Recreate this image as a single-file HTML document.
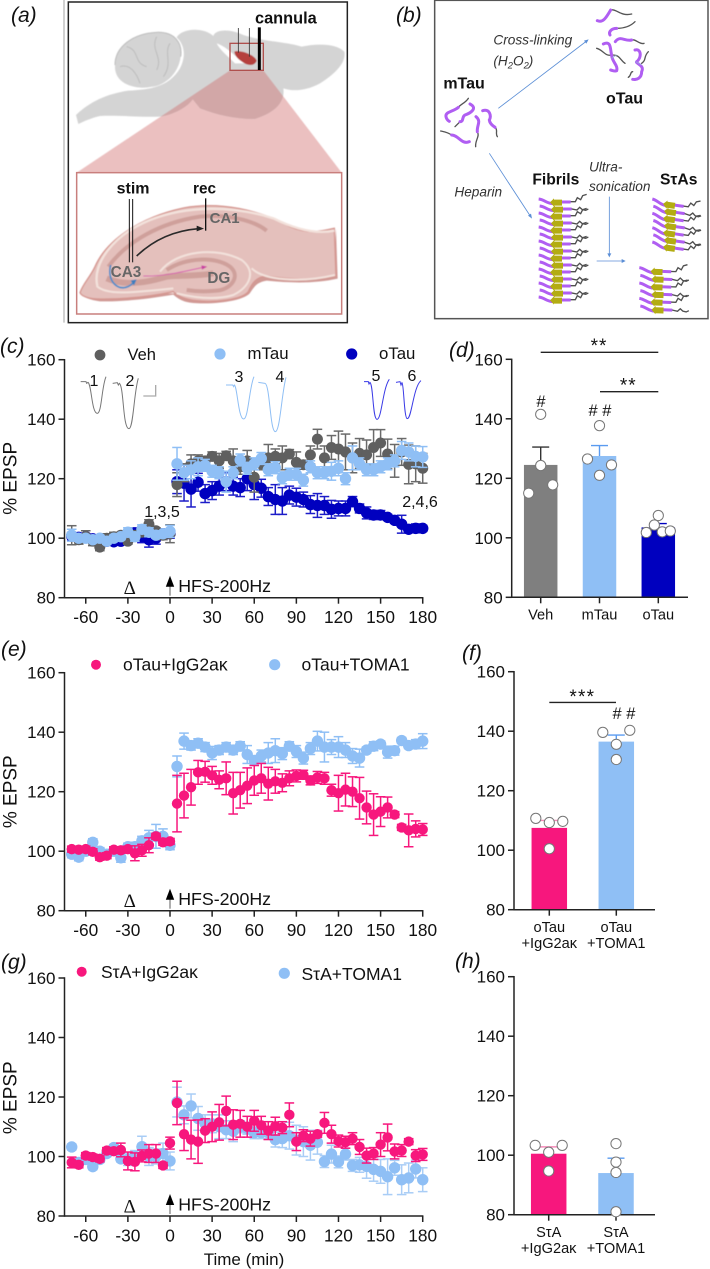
<!DOCTYPE html>
<html lang="en">
<head>
<meta charset="utf-8">
<title>EPSP figure</title>
<style>
html,body{margin:0;padding:0;background:#fff;width:710px;height:1269px;overflow:hidden}
svg{display:block;font-family:"Liberation Sans",sans-serif}
text{fill:#111}
</style>
</head>
<body>
<svg id="fig" xmlns="http://www.w3.org/2000/svg" width="710" height="1269" viewBox="0 0 710 1269">
<defs>
  <filter id="soft" x="-5%" y="-5%" width="110%" height="110%"><feGaussianBlur stdDeviation="1.5"/></filter>
</defs>

<g transform="scale(0.33333)">
  <line x1="192" y1="0" x2="192" y2="968" stroke="#c8c8c8" stroke-width="5"/>
  <rect x="205" y="6" width="837" height="962" fill="#fff" stroke="#222" stroke-width="4.5"/>
  <g filter="url(#soft)">
    <path d="M228,345 C270,305 320,282 385,272 C450,268 505,262 540,205 C558,170 555,135 530,112 C545,85 610,80 640,108 C645,88 690,85 730,105 C790,125 860,125 905,140 C950,130 1010,130 1033,155 C1040,190 1000,225 960,250 C920,272 880,275 850,265 C855,300 835,335 765,357 C710,358 650,345 600,325 L578,298 C565,320 520,345 480,350 C420,352 350,345 300,348 C270,355 250,365 235,372 Z" fill="#d4d4d4"/>
    <path d="M345,195 C345,140 400,100 470,97 C525,95 548,130 542,170 C535,225 490,262 440,263 C390,265 342,245 345,195Z" fill="#d4d4d4"/>
    <path d="M380,140 C420,150 400,190 440,200 M470,110 C450,150 490,170 470,210 M510,130 C490,160 520,190 490,230 M360,200 C390,190 410,220 420,250 M345,195 C345,140 400,100 470,97 C525,95 548,130 542,170" fill="none" stroke="#bcbcbc" stroke-width="3"/>
    <path d="M650,130 C680,140 700,165 735,190 L705,190 C680,165 660,150 650,130Z" fill="#fff"/>
    <path d="M345,250 C390,268 440,268 470,255 C440,272 380,270 345,250Z" fill="#fff"/>
    <path d="M703,155 C720,148 765,165 770,182 C765,198 745,198 730,188 C715,178 705,170 703,155Z" fill="#b5403c"/>
    <polygon points="690,211 790,211 1025,518 230,518" fill="#cf6a6a" fill-opacity="0.42"/>
  </g>
  <rect x="690" y="130" width="100" height="81" fill="none" stroke="#b0504e" stroke-width="4"/>
  <line x1="715" y1="84" x2="715" y2="158" stroke="#333" stroke-width="2.5"/>
  <line x1="748" y1="84" x2="748" y2="170" stroke="#333" stroke-width="2.5"/>
  <line x1="778" y1="82" x2="778" y2="210" stroke="#000" stroke-width="9"/>
  <text x="765" y="71" font-size="49" font-weight="bold">cannula</text>
  <rect x="230" y="518" width="795" height="424" fill="#fff" stroke="#c97f7d" stroke-width="4.5"/>
  <g>
    <g filter="url(#soft)">
      <path d="M240,880 C250,892 270,900 300,904 C370,906 450,896 520,884 C540,902 560,910 600,910 C660,912 740,900 752,876 C765,856 775,846 800,842 C880,850 950,850 1013,836 L1008,685 L1000,826 C900,846 840,836 800,826 C770,826 750,860 740,880Z" fill="#d09a95"/>
      <path d="M240,878 C250,850 270,832 285,800 C320,720 420,652 550,624 C660,604 780,630 870,680 C920,702 960,695 1003,685 L1008,828 C950,842 880,840 800,828 C770,830 755,850 745,875 C725,900 640,908 590,902 C550,898 530,885 520,875 C450,890 370,898 300,897 C270,897 245,890 240,878Z" fill="#e4c0bc" stroke="#d59690" stroke-width="4"/>
      <path d="M292,858 C276,790 340,705 450,660 C560,616 700,616 820,655 C870,680 940,705 1003,692" fill="none" stroke="#f3e2dc" stroke-width="7"/>
      <path d="M325,800 C380,725 480,668 600,650 C680,642 760,660 800,692" fill="none" stroke="#cfa09b" stroke-width="12"/>
      <path d="M320,835 C390,865 470,838 500,830 C530,825 590,830 640,820" fill="none" stroke="#cfa09b" stroke-width="18"/>
      <path d="M480,815 C530,750 650,740 725,780 C770,815 750,860 700,885 C650,900 590,895 530,880" fill="none" stroke="#f3e2dc" stroke-width="6"/>
      <path d="M500,810 C560,770 650,770 690,800 C725,830 690,870 650,872 C620,875 590,875 560,870" fill="none" stroke="#cfa09b" stroke-width="12"/>
      <path d="M755,805 C790,840 900,850 1005,825 M290,858 C320,885 380,880 520,865" fill="none" stroke="#f3e2dc" stroke-width="6"/>
      <path d="M430,828 C490,830 550,815 605,803" fill="none" stroke="#d85fb0" stroke-width="3"/>
      <polygon points="604,796 622,800 606,809" fill="#c93ea0"/>
      <path d="M332,795 C318,850 365,885 400,848" fill="none" stroke="#4a8cc9" stroke-width="5"/>
      <polygon points="392,842 410,838 402,856" fill="#3d7fbe"/>
    </g>
    <path d="M410,768 C460,720 520,692 595,686" fill="none" stroke="#2a2a2a" stroke-width="5"/>
    <polygon points="590,677 612,686 590,694" fill="#222"/>
    <line x1="388" y1="597" x2="388" y2="787" stroke="#111" stroke-width="3"/>
    <line x1="398" y1="597" x2="398" y2="787" stroke="#111" stroke-width="3"/>
    <line x1="617" y1="595" x2="617" y2="692" stroke="#111" stroke-width="4"/>
    <text x="350" y="580" font-size="48" font-weight="bold">stim</text>
    <text x="579" y="580" font-size="46" font-weight="bold">rec</text>
    <text x="629" y="669" font-size="45" font-weight="bold" style="fill:#666">CA1</text>
    <text x="332" y="831" font-size="46" font-weight="bold" style="fill:#666">CA3</text>
    <text x="622" y="849" font-size="46" font-weight="bold" style="fill:#666">DG</text>
  </g>
</g>

<g transform="translate(390,0) scale(0.33333)">
  <rect x="134" y="1" width="820" height="955" fill="#fff" stroke="#555" stroke-width="4.5"/>
  <g fill="none" stroke-linecap="round">
    <path d="M205,322 C215,310 225,310 235,295 M210,365 L195,380 M315,382 C325,390 315,400 322,410 M262,395 C270,410 255,420 257,440 M185,405 C170,395 160,395 152,393" stroke="#555" stroke-width="4"/>
    <path d="M205,322 C190,335 165,335 168,350 C170,360 175,362 178,364 M240,312 C265,325 240,340 225,345 C215,350 222,365 210,365 M278,332 C300,325 305,350 298,360 C300,375 312,378 315,382 M258,350 C275,365 260,375 262,395 M185,405 C205,405 215,435 238,425" stroke="#b05ef2" stroke-width="9"/>
  </g>
  <g fill="none" stroke-linecap="round">
    <path d="M662,30 C680,25 690,50 725,42 M680,85 C700,85 720,80 735,65 M725,120 C735,115 750,135 762,130 M665,165 C645,170 640,150 620,145 M668,165 C690,165 690,180 705,190 M755,190 C770,180 760,170 775,155 M728,215 C720,215 725,225 715,232" stroke="#555" stroke-width="4"/>
    <path d="M622,62 C640,70 650,50 662,30 M660,105 C655,95 665,85 680,85 M676,125 C690,105 705,125 725,120 M640,132 C665,120 660,150 665,165 C665,185 685,195 680,212 C675,215 670,212 662,210 M735,150 C755,145 755,175 740,185 C735,190 765,195 755,215 C755,235 740,240 728,238" stroke="#b05ef2" stroke-width="9"/>
    <path d="M665,175 L680,165 M737,185 L755,195" stroke="#8fb8d8" stroke-width="2"/>
  </g>
  <g id="fibrils-a"></g>
  <g id="fibrils-b"></g>
  <g id="fibrils-c"></g>
  <g stroke="#5b8ed6" stroke-width="2.5" fill="#5b8ed6">
    <line x1="325" y1="325" x2="590" y2="123"/>
    <polygon points="596,118 582,122 589,131" stroke="none"/>
    <line x1="298" y1="460" x2="422" y2="650"/>
    <polygon points="426,656 414,647 423,641" stroke="none"/>
    <line x1="658" y1="590" x2="658" y2="765"/>
    <polygon points="658,772 652,760 664,760" stroke="none"/>
    <line x1="620" y1="783" x2="700" y2="783"/>
    <polygon points="707,783 695,777 695,789" stroke="none"/>
  </g>
  <text x="160" y="266" font-size="48" font-weight="bold">mTau</text>
  <text x="648" y="311" font-size="48" font-weight="bold">oTau</text>
  <text x="427" y="553" font-size="47" font-weight="bold">Fibrils</text>
  <text x="810" y="553" font-size="47" font-weight="bold">SτAs</text>
  <text x="310" y="133" font-size="41" font-style="italic" style="fill:#333">Cross-linking</text>
  <text x="310" y="197" font-size="41" font-style="italic" style="fill:#333">(H<tspan dy="8" font-size="28">2</tspan><tspan dy="-8">O</tspan><tspan dy="8" font-size="28">2</tspan><tspan dy="-8">)</tspan></text>
  <text x="193" y="590" font-size="41" font-style="italic" style="fill:#333">Heparin</text>
  <text x="597" y="515" font-size="41" font-style="italic" style="fill:#333">Ultra-</text>
  <text x="597" y="573" font-size="41" font-style="italic" style="fill:#333">sonication</text>
</g>

<g font-size="21" font-style="italic">
  <text x="11" y="22">(a)</text>
  <text x="396" y="22">(b)</text>
  <text x="0" y="353">(c)</text>
  <text x="449" y="357">(d)</text>
  <text x="1" y="656">(e)</text>
  <text x="462" y="660">(f)</text>
  <text x="1" y="969">(g)</text>
  <text x="455" y="968">(h)</text>
</g>

<g id="panel-c"></g>
<g id="panel-d"></g>
<g id="panel-e"></g>
<g id="panel-f"></g>
<g id="panel-g"></g>
<g id="panel-h"></g>

<g transform="translate(0,330) scale(0.33333)" fill="none" stroke-width="3">
  <path d="M242,155 L258,155 L260,160 L264,157 C275,165 275,250 292,250 C305,250 305,170 318,140" stroke="#777"/>
  <path d="M338,160 L352,158 L355,165 L358,160 C372,170 368,296 387,296 C400,296 402,185 415,145" stroke="#777"/>
  <polyline points="430,198 467,198 467,165" stroke="#aaa" stroke-width="4"/>
  <path d="M678,165 L698,165 L701,170 L703,165 C712,170 715,267 731,267 C745,267 748,170 762,140" stroke="#8fbff5"/>
  <path d="M775,157 L795,160 C810,165 810,305 826,305 C840,305 845,190 858,142" stroke="#8fbff5"/>
  <path d="M1092,155 L1105,155 L1107,162 L1110,157 C1120,165 1118,268 1131,268 C1145,268 1148,175 1168,148" stroke="#3a3ae6"/>
  <path d="M1188,157 L1200,155 L1203,165 L1206,158 C1212,165 1212,266 1222,266 C1235,266 1240,170 1263,152" stroke="#3a3ae6"/>
</g>
<g font-size="16" text-anchor="middle">
  <text x="94" y="386">1</text>
  <text x="130" y="386">2</text>
  <text x="239" y="382">3</text>
  <text x="280" y="382">4</text>
  <text x="376" y="381">5</text>
  <text x="412" y="381">6</text>
  <text x="162" y="517">1,3,5</text>
  <text x="420" y="507">2,4,6</text>
</g>

<g>
  <circle cx="100" cy="355" r="5.4" fill="#5f5f5f"/>
  <text x="127.5" y="360" font-size="16.5">Veh</text>
  <circle cx="220" cy="354" r="5.6" fill="#8fbff5"/>
  <text x="247.5" y="359" font-size="16.8">mTau</text>
  <circle cx="351.7" cy="354" r="5.6" fill="#0000bf"/>
  <text x="379" y="359" font-size="16.8">oTau</text>
</g>
<g font-size="17.5">
  <circle cx="96" cy="664.7" r="5" fill="#f7177d"/>
  <text x="123" y="670.5">oTau+IgG2aκ</text>
  <circle cx="274.7" cy="664.7" r="5.6" fill="#8fbff5"/>
  <text x="301.5" y="670.5">oTau+TOMA1</text>
</g>
<g font-size="17.5">
  <circle cx="81.7" cy="971.7" r="5" fill="#f7177d"/>
  <text x="101" y="978">SτA+IgG2aκ</text>
  <circle cx="284.3" cy="973.3" r="5.6" fill="#8fbff5"/>
  <text x="301.5" y="980">SτA+TOMA1</text>
</g>
<text x="244" y="1265" font-size="17" text-anchor="middle">Time (min)</text>

<g>
  <line x1="540.7" y1="352.3" x2="658.3" y2="352.3" stroke="#222" stroke-width="1.4"/>
  <text x="599" y="352" font-size="19" letter-spacing="1" text-anchor="middle">**</text>
  <line x1="600" y1="391.7" x2="658.3" y2="391.7" stroke="#222" stroke-width="1.4"/>
  <text x="628.3" y="391.5" font-size="19" letter-spacing="1" text-anchor="middle">**</text>
  <text x="541" y="407" font-size="16.5" text-anchor="middle">#</text>
  <text x="600" y="416" font-size="16.5" text-anchor="middle"># #</text>
</g>
<g>
  <line x1="549.3" y1="702.4" x2="616" y2="702.4" stroke="#222" stroke-width="1.4"/>
  <text x="582.3" y="703" font-size="19" letter-spacing="1.2" text-anchor="middle">***</text>
  <text x="624" y="719" font-size="16.5" text-anchor="middle"># #</text>
</g>
</svg>

<script>
// ---- shared axis labels ----
const yTickLabels = [80, 100, 120, 140, 160];
const xTickLabels = [-60, -30, 0, 30, 60, 90, 120, 150, 180];
const times = [-70,-65,-60,-55,-50,-45,-40,-35,-30,-25,-20,-15,-10,-5,0,5,10,15,20,25,30,35,40,45,50,55,60,65,70,75,80,85,90,95,100,105,110,115,120,125,130,135,140,145,150,155,160,165,170,175,180];

// ---- panel c series ----
const vehValues = [101,99.5,100.5,99,97,100,100.5,101,99,101,102,104.7,102.5,101,101.5,118,122,125,126,126,127.5,126,127.7,126,124,126,120.5,125,127,127.5,127,128.3,125.5,124.7,128,133.3,127,130.5,130,129,127,128.5,128,130.5,132,128.3,126,129,124.8,125,123.5];
const vehErrors = [3.2,1.5,2,1.5,1.2,1.5,1.5,1,1,1.5,1.5,1.5,1,1.5,3,4,3,3,2,1.5,1.5,2.5,1.5,4,2.5,3.5,5,2,4.5,2.5,4,1.5,3.5,1.5,3,3.3,4,4,6,6,5,5,5,6,4.5,5,5.5,4.5,6.5,6,5];
const mTauValues = [101,100,100,99.5,100,99,100,100.5,102,100.5,103,102,101,101.5,102.3,125,122,123,124,124.5,122.5,122,119,122,126.3,123.5,125,126.8,123,123.7,120.3,121.5,121.5,119.5,124,122,122,122.5,123.5,120,127,125,123,123,124,125,126,129.5,129,127.5,127.3];
const mTauErrors = [2,1,1,1,1,1,1,1,1.5,1.5,1.5,1.5,1,1,2,5.5,2.5,3,3,2,2,2,3.5,2,2,2,2,2,2,2,2,2,2,2,2,2,2,3,2.5,2,4,2,2,2,2,2,2,3,3,3.5,3.5];
const oTauValues = [100.7,100.3,100.5,99.8,99.5,99,98.8,99,101,101.5,100.5,99.5,100,101.5,101.5,119,118.5,116.5,118.8,115,116,117.5,119,117.5,117,120,118,116.8,114,113,112.5,114.5,113.8,113,111.3,111,111,109.7,110,110,112.3,110,108.5,107.8,107.8,107,106,104.7,103,103.3,103.3];
const oTauErrors = [1.2,1.2,1,1,1,1,1,1,1.5,2,2,2.5,2,1.5,1.5,4,6,6,3,3,3,3,3,3,3,4,5,3,3,5,4.5,3,3,2.5,3,4,3,3,2.5,2.5,1.7,1.5,2,1.5,1.5,1,1,3,1,1.5,1];

// ---- panel d values ----
const dCategories = ["Veh", "mTau", "oTau"];
const dMeans = [124.5, 127.5, 103.5];
const dErrors = [6, 3.5, 1.3];
const dVehPoints = [141.5, 124.3, 115, 117.8];
const dVehSlots = [0, 0, -1, 1];
const dMTauPoints = [137.7, 126.5, 124.5, 121];
const dMTauSlots = [0, -1, 1, 0];
const dOTauPoints = [107.5, 104.3, 101.8, 102, 102.3];
const dOTauSlots = [0, -0.33, -1, 0.33, 1];

// ---- panel e series ----
const eIggValues = [100.7,100.5,100.7,99.8,98,98.5,100.5,100.3,100.7,99.3,100.3,102,105,103,103.3,116,118.7,121.5,126.5,126.7,125.5,124,124.5,119.5,120.5,122,123.8,124.5,122.7,123.5,123,124.5,125.3,125.7,123.8,124.8,124.5,120.5,119.5,120.7,120,117.8,114.7,112.3,113.3,114.7,112.3,108,107,107.5,107.3];
const eIggErrors = [1,1,1,1,1,1,1,1,1,2.5,2,2.5,1,1,1,9.5,7.5,6,4,3.5,3,3,5.5,7,6,6,5,5,5.5,4,3,2.5,2,1.5,1.5,2,2,2,6,5.5,5,7,5.5,7,5,3.5,1,1,5.5,2.7,2];
const eTomaValues = [99,98,100,103,100,99,100,97.8,101.5,101.5,103.5,104.5,105,105,102,128.5,137,135.5,136.3,135,133,134,135,134,135.3,132.5,130.5,132,133,133.8,132.8,135.3,133.5,131.3,134.5,137,135,135,135,134,132,131.3,134,135.3,136,133.3,133.8,137.2,135.5,136,137];
const eTomaErrors = [1.2,1.2,1.2,1.2,1.2,1.2,1.2,1.5,1.2,1.5,1.5,2.5,4,2.5,1.5,3.5,2.7,1.5,1.5,1.5,2.2,1.5,1.5,1.5,1.5,3,1.5,2,3.5,4,2,1.5,2,2,2,3.3,5,2.5,3.5,2.5,2.5,3,1,1.5,1,2,1.5,1,1,1.5,2.5];

// ---- panel f values ----
const fCategoryLine1 = ["oTau", "oTau"];
const fCategoryLine2 = ["+IgG2aκ", "+TOMA1"];
const fMeans = [107.5, 136.5];
const fErrors = [2.5, 2.2];
const fIggPoints = [110.7, 109.3, 109.7, 100.5];
const fIggSlots = [-1, 0, 1, 0];
const fTomaPoints = [139.6, 140.3, 135.6, 130.5];
const fTomaSlots = [-1, 1, 0, 0];

// ---- panel g series ----
const gIggValues = [98,97.2,100.3,99.8,99.2,102,101.8,102.2,98.5,98.2,100.2,101,101,97,104.5,118,107.5,105.7,105,108.7,110,111.5,115.3,110.7,111,110,112,110.5,108.7,110.2,109.7,114,105,107,106,107.5,111.3,107.5,105.2,104.8,106,103.2,100.3,101,104,106.4,101.7,102,105,100.3,100.7];
const gIggErrors = [1.8,1,1,1,1,1,1,2.3,3,3,2,3,3,1,2,7.3,5.5,6.5,7.3,4,5,6,5,5,4.5,3.5,3.5,3,3,3,2,4,3,2,2.5,1,3.5,3,2,2,2,2.5,2.5,2,4,4.5,2.5,2,1,2,2];
const gTomaValues = [103.2,98,99,96.6,99,101,103,99.2,99,100,103.3,100,100,101,98.5,118.3,114,117,112.8,111,111,110,109,108.5,110,109.5,108,108,108,105.7,106,107,105.5,105,103.8,104.8,98.3,100.8,98.2,100.8,97,97.2,96.7,95.7,95,93.2,96.2,92.2,92.8,95.8,92.2];
const gTomaErrors = [1,1,1,1,1,1,1,1,2,2,3.5,3,2.5,3.5,3,5,3,4,4,3,3,4,3,3.5,2,2,2,2,2,2.5,3,4.5,5,5,5,4,2,3,2,2,2,2.5,4,4,4,6,2.5,5,5,3,4];

// ---- panel h values ----
const hCategoryLine1 = ["SτA", "SτA"];
const hCategoryLine2 = ["+IgG2aκ", "+TOMA1"];
const hMeans = [100.5, 94];
const hErrors = [2.3, 5];
const hIggPoints = [103.3, 103.3, 101, 94.7];
const hIggSlots = [-1, 1, 0, 0];
const hTomaPoints = [103.9, 97.7, 94.2, 81];
const hTomaSlots = [0, 0, 0, 0];

const NS = "http://www.w3.org/2000/svg";
const GRAY = "#5f5f5f", LIGHT = "#8fbff5", NAVY = "#0000bf", PINK = "#f7177d";
const AXIS = "#222";
const AXIS_W = 1.5;
const ERR_W = 1.5;

function el(tag, parent) {
  const node = document.createElementNS(NS, tag);
  parent.appendChild(node);
  return node;
}
function drawLine(parent, name, x1, y1, x2, y2, color, width) {
  const n = el("line", parent);
  
  
  n.setAttribute("x1", x1); n.setAttribute("y1", y1);
  n.setAttribute("x2", x2); n.setAttribute("y2", y2);
  n.setAttribute("stroke", color); n.setAttribute("stroke-width", width);
  return n;
}
function drawText(parent, name, x, y, size, anchor, str) {
  const n = el("text", parent);
  
  
  n.setAttribute("x", x); n.setAttribute("y", y);
  n.setAttribute("font-size", size); n.setAttribute("text-anchor", anchor);
  n.textContent = str;
  return n;
}
function drawCircle(parent, name, cx, cy, r, fill, stroke, sw) {
  const n = el("circle", parent);
  
  
  n.setAttribute("cx", cx); n.setAttribute("cy", cy); n.setAttribute("r", r);
  n.setAttribute("fill", fill);
  if (stroke) { n.setAttribute("stroke", stroke); n.setAttribute("stroke-width", sw); }
  return n;
}

function yAxisFn(top, bottom) {
  return v => bottom - (v - 80) * (bottom - top) / 80;
}
function timeX(t) { return 170 + 1.404 * t; }

function drawYAxis(g, xAxis, y) {
  drawLine(g, "y-axis-line", xAxis, y(160) - 0.7, xAxis, y(80) + 0.7, AXIS, AXIS_W);
  yTickLabels.forEach(v => {
    drawLine(g, "y-tick-" + v, xAxis - 6, y(v), xAxis, y(v), AXIS, AXIS_W);
    drawText(g, "y-tick-label-" + v, xAxis - 9, y(v) + 6, 17, "end", v);
  });
}

function drawTimePanel(id, top, bottom, yTitleY, series) {
  const g = document.getElementById(id);
  const y = yAxisFn(top, bottom);
  drawYAxis(g, 64.5, y);
  drawLine(g, "x-axis-line", 64.5, bottom, timeX(180) + 0.7, bottom, AXIS, AXIS_W);
  xTickLabels.forEach(t => {
    drawLine(g, "x-tick-" + t, timeX(t), bottom, timeX(t), bottom + 6, AXIS, AXIS_W);
    drawText(g, "x-tick-label-" + t, timeX(t), bottom + 25.5, 17.3, "middle", t);
  });
  const title = drawText(g, "y-axis-title", 0, 0, 19, "middle", "% EPSP");
  title.setAttribute("transform", "translate(16.5," + yTitleY + ") rotate(-90)");
  drawText(g, "delta-marker", 129.7, bottom - 3.5, 19, "middle", "Δ").setAttribute("font-family", "Liberation Serif, serif");
  drawLine(g, "hfs-arrow-shaft", 170, bottom - 14, 170, bottom - 2, "#777", 1.2);
  const head = el("polygon", g);
  
  
  head.setAttribute("points", "170," + (bottom - 22) + " 165.8," + (bottom - 11) + " 174.2," + (bottom - 11));
  head.setAttribute("fill", "#000");
  drawText(g, "hfs-label", 178.2, bottom - 5.6, 17.8, "start", "HFS-200Hz");

  series.forEach(s => {
    const sg = el("g", g);
    
    
    times.forEach((t, i) => {
      const x = timeX(t), hi = y(s.values[i] + s.errors[i]), lo = y(s.values[i] - s.errors[i]);
      drawLine(sg, s.name + "-error-" + t, x, hi, x, lo, s.errorColor || s.color, ERR_W);
      drawLine(sg, s.name + "-cap-top-" + t, x - 4.8, hi, x + 4.8, hi, s.errorColor || s.color, ERR_W);
      drawLine(sg, s.name + "-cap-bottom-" + t, x - 4.8, lo, x + 4.8, lo, s.errorColor || s.color, ERR_W);
    });
    times.forEach((t, i) => {
      drawCircle(sg, s.name + "-point-" + t, timeX(t), y(s.values[i]), s.r, s.color);
    });
  });
}

function drawBarPanel(id, cfg) {
  const g = document.getElementById(id);
  const y = yAxisFn(cfg.top, cfg.bottom);
  const center = i => cfg.x0 + i * cfg.step;
  cfg.bars.forEach((b, i) => {
    const cx = center(i);
    const r = el("rect", g);
    
    
    r.setAttribute("x", cx - cfg.bw / 2);
    r.setAttribute("y", y(b.mean));
    r.setAttribute("width", cfg.bw);
    r.setAttribute("height", cfg.bottom - y(b.mean));
    r.setAttribute("fill", b.color);
    const hi = y(b.mean + b.err);
    drawLine(g, "bar-error-" + b.name, cx, y(b.mean), cx, hi, b.errColor, 1.4);
    drawLine(g, "bar-cap-" + b.name, cx - cfg.cap, hi, cx + cfg.cap, hi, b.errColor, 1.4);
  });
  drawYAxis(g, cfg.xAxis, y);
  drawLine(g, "x-axis-line", cfg.xAxis, cfg.bottom, cfg.xEnd, cfg.bottom, AXIS, AXIS_W);
  cfg.bars.forEach((b, i) => {
    const cx = center(i);
    drawLine(g, "x-tick-" + b.name, cx, cfg.bottom, cx, cfg.bottom + 6, AXIS, AXIS_W);
    b.labels.forEach((lab, k) => {
      drawText(g, "x-tick-label-" + b.name + "-" + k, cx, cfg.bottom + 22.3 + k * 16.1, 14.6, "middle", lab);
    });
    b.points.forEach((v, k) => {
      drawCircle(g, "point-" + b.name + "-" + k, cx + b.slots[k] * cfg.jitter, y(v), 5.1, "#fff", "#777", 1);
    });
  });
}

drawTimePanel("panel-c", 359.7, 597.7, 478.3, [
  { name: "otau", values: oTauValues, errors: oTauErrors, color: NAVY, errorColor: "#1c1cc8", r: 5.7 },
  { name: "veh", values: vehValues, errors: vehErrors, color: GRAY, errorColor: "#6a6a6a", r: 5.5 },
  { name: "mtau", values: mTauValues, errors: mTauErrors, color: LIGHT, r: 5.7 }
]);
drawBarPanel("panel-d", {
  top: 359.3, bottom: 597.3, xAxis: 511.7, xEnd: 688, x0: 540.7, step: 58.8, bw: 33.5, cap: 8.5, jitter: 12,
  bars: [
    { name: "veh", mean: dMeans[0], err: dErrors[0], color: "#7f7f7f", errColor: "#333", labels: [dCategories[0]], points: dVehPoints, slots: dVehSlots },
    { name: "mtau", mean: dMeans[1], err: dErrors[1], color: LIGHT, errColor: "#5a9bf0", labels: [dCategories[1]], points: dMTauPoints, slots: dMTauSlots },
    { name: "otau", mean: dMeans[2], err: dErrors[2], color: NAVY, errColor: NAVY, labels: [dCategories[2]], points: dOTauPoints, slots: dOTauSlots }
  ]
});
drawTimePanel("panel-e", 672.7, 910.7, 791.7, [
  { name: "otau-toma1", values: eTomaValues, errors: eTomaErrors, color: LIGHT, r: 5.7 },
  { name: "otau-igg", values: eIggValues, errors: eIggErrors, color: PINK, r: 5.2 }
]);
drawBarPanel("panel-f", {
  top: 671.7, bottom: 909.7, xAxis: 514, xEnd: 655, x0: 549.3, step: 67, bw: 35.5, cap: 8.5, jitter: 13.5,
  bars: [
    { name: "igg", mean: fMeans[0], err: fErrors[0], color: PINK, errColor: "#f48ab8", labels: [fCategoryLine1[0], fCategoryLine2[0]], points: fIggPoints, slots: fIggSlots },
    { name: "toma1", mean: fMeans[1], err: fErrors[1], color: LIGHT, errColor: "#5a9bf0", labels: [fCategoryLine1[1], fCategoryLine2[1]], points: fTomaPoints, slots: fTomaSlots }
  ]
});
drawTimePanel("panel-g", 978, 1216, 1097.7, [
  { name: "sta-toma1", values: gTomaValues, errors: gTomaErrors, color: LIGHT, errorColor: "#a9cdf6", r: 5.7 },
  { name: "sta-igg", values: gIggValues, errors: gIggErrors, color: PINK, r: 5.2 }
]);
drawBarPanel("panel-h", {
  top: 976.7, bottom: 1214.7, xAxis: 514, xEnd: 655, x0: 548.7, step: 67.3, bw: 35.5, cap: 8.5, jitter: 13.5,
  bars: [
    { name: "igg", mean: hMeans[0], err: hErrors[0], color: PINK, errColor: "#f48ab8", labels: [hCategoryLine1[0], hCategoryLine2[0]], points: hIggPoints, slots: hIggSlots },
    { name: "toma1", mean: hMeans[1], err: hErrors[1], color: LIGHT, errColor: "#5a9bf0", labels: [hCategoryLine1[1], hCategoryLine2[1]], points: hTomaPoints, slots: hTomaSlots }
  ]
});

// fibril illustration rows (panel b)
function fibrilStack(id, ox, oy, rows, rowStep, tilt) {
  const g = document.getElementById(id);
  g.setAttribute("transform", "translate(" + ox + "," + oy + ")");
  for (let i = 0; i < rows; i++) {
    const yy = i * rowStep;
    const row = el("g", g);
    
    
    row.setAttribute("transform", "translate(" + (i % 2 ? 3 : 0) + "," + yy + ") rotate(" + tilt + ")");
    const tail = el("path", row);
    
    
    tail.setAttribute("d", i % 2 ? "M92,8 L112,12 l8,-8 l8,7 l10,2 l8,-4" : "M92,8 L110,8 l6,-12 l10,6 l6,-12 l12,-4");
    tail.setAttribute("fill", "none");
    tail.setAttribute("stroke", "#4f4f4f");
    tail.setAttribute("stroke-width", "4");
    const fuzz = el("path", row);
    
    
    fuzz.setAttribute("d", "M0,0 C18,2 24,14 44,14 M66,9 L96,9");
    fuzz.setAttribute("fill", "none");
    fuzz.setAttribute("stroke", "#b05ef2");
    fuzz.setAttribute("stroke-width", "9");
    const core = el("polygon", row);
    
    
    core.setAttribute("points", "34,10 46,-2 46,2 70,2 70,20 46,20 46,23");
    core.setAttribute("fill", "#b3ac12");
  }
}
fibrilStack("fibrils-a", 446, 597, 15, 21, 0);
fibrilStack("fibrils-b", 787, 597, 7, 21.5, 8);
fibrilStack("fibrils-c", 748, 803, 6, 23, 2);
</script>
</body>
</html>
